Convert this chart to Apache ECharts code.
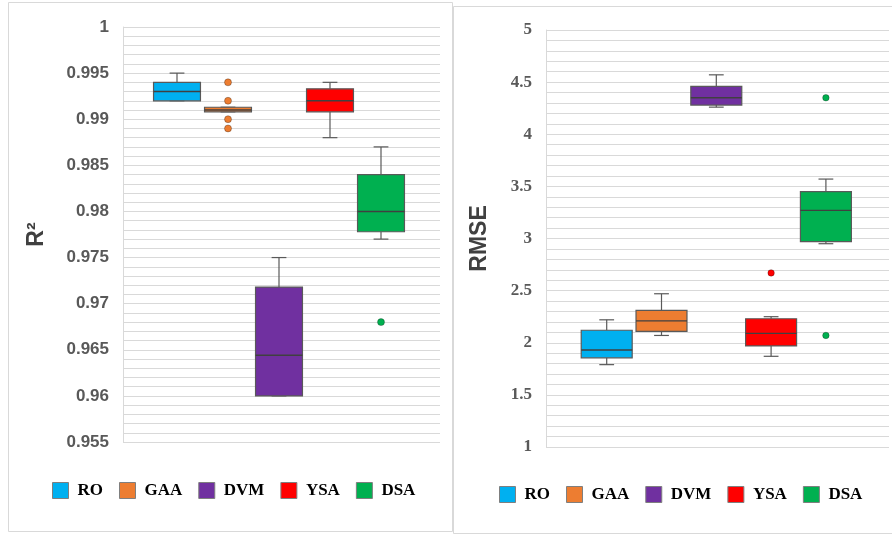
<!DOCTYPE html>
<html>
<head>
<meta charset="utf-8">
<script src="https://cdn.jsdelivr.net/npm/echarts@6/dist/echarts.min.js"></script>
<style>
html,body{margin:0;padding:0;background:#fff;}
#chart{width:892px;height:535px;}
</style>
</head>
<body>
<div id="chart"></div>
<script>
// ---- data ----
const methods = ['RO', 'GAA', 'DVM', 'YSA', 'DSA'];

// R² box statistics (min, Q1, median, Q3, max), per method
const r2Min    = [0.992, 0.9908, 0.960,  0.988,  0.977];
const r2Q1     = [0.992, 0.9908, 0.960,  0.9908, 0.9778];
const r2Median = [0.993, 0.991,  0.9644, 0.992,  0.980];
const r2Q3     = [0.994, 0.9913, 0.9718, 0.9933, 0.984];
const r2Max    = [0.995, 0.9913, 0.975,  0.994,  0.987];
const r2OutlierMethod = ['GAA', 'GAA', 'GAA', 'GAA', 'DSA'];
const r2OutlierValue  = [0.994, 0.992, 0.990, 0.989, 0.968];
const r2Ticks = [0.955, 0.96, 0.965, 0.97, 0.975, 0.98, 0.985, 0.99, 0.995, 1];

// RMSE box statistics
const rmseMin    = [1.79,  2.07, 4.26, 1.87, 2.95];
const rmseQ1     = [1.855, 2.11, 4.28, 1.97, 2.97];
const rmseMedian = [1.93,  2.21, 4.35, 2.09, 3.27];
const rmseQ3     = [2.12,  2.31, 4.46, 2.23, 3.45];
const rmseMax    = [2.22,  2.47, 4.57, 2.25, 3.57];
const rmseOutlierMethod = ['YSA', 'DSA', 'DSA'];
const rmseOutlierValue  = [2.67, 4.35, 2.07];
const rmseTicks = [1, 1.5, 2, 2.5, 3, 3.5, 4, 4.5, 5];

// ---- styles ----
const colors = ['#00B0F0', '#ED7D31', '#7030A0', '#FF0000', '#00B050'];
const LINE = '#595959';

function makeRender(boxW, capW) {
  return function (params, api) {
    const x = api.value(0);
    const lo = api.coord([x, api.value(1)]);
    const q1 = api.coord([x, api.value(2)]);
    const md = api.coord([x, api.value(3)]);
    const q3 = api.coord([x, api.value(4)]);
    const hi = api.coord([x, api.value(5)]);
    const half = api.size([boxW, 0])[0] / 2;
    const capHalf = api.size([capW, 0])[0] / 2;
    const color = api.visual('color');
    const ls = { stroke: LINE, lineWidth: 1.2 };
    return {
      type: 'group',
      children: [
        { type: 'line', shape: { x1: hi[0], y1: hi[1], x2: q3[0], y2: q3[1] }, style: ls },
        { type: 'line', shape: { x1: hi[0] - capHalf, y1: hi[1], x2: hi[0] + capHalf, y2: hi[1] }, style: ls },
        { type: 'line', shape: { x1: lo[0], y1: lo[1], x2: q1[0], y2: q1[1] }, style: ls },
        { type: 'line', shape: { x1: lo[0] - capHalf, y1: lo[1], x2: lo[0] + capHalf, y2: lo[1] }, style: ls },
        { type: 'rect', shape: { x: q3[0] - half, y: q3[1], width: half * 2, height: q1[1] - q3[1] },
          style: { fill: color, stroke: LINE, lineWidth: 1.2 } },
        { type: 'line', shape: { x1: md[0] - half, y1: md[1], x2: md[0] + half, y2: md[1] },
          style: { stroke: '#404040', lineWidth: 1.4 } }
      ]
    };
  };
}

function boxSeries(gridIdx, mins, q1s, meds, q3s, maxs, boxW, capW) {
  return methods.map((m, i) => ({
    type: 'custom',
    name: m,
    xAxisIndex: gridIdx,
    yAxisIndex: gridIdx,
    itemStyle: { color: colors[i], borderColor: '#7f7f7f', borderWidth: 1 },
    encode: { x: 0, y: [1, 2, 3, 4, 5] },
    renderItem: makeRender(boxW, capW),
    data: [[i, mins[i], q1s[i], meds[i], q3s[i], maxs[i]]],
    z: 3
  }));
}

function outlierSeries(gridIdx, oMethods, oValues, size) {
  return methods.map((m, i) => ({
    type: 'scatter',
    name: m + ' outlier',
    xAxisIndex: gridIdx,
    yAxisIndex: gridIdx,
    symbol: 'circle',
    symbolSize: size,
    itemStyle: { color: colors[i], borderColor: 'rgba(0,0,0,0.35)', borderWidth: 0.8, opacity: 1 },
    data: oValues.map((v, k) => oMethods[k] === m ? [i, v] : null).filter(d => d),
    z: 4
  })).filter(s => s.data.length);
}

const fmt = d => v => String(+v.toFixed(d));

const yCommon = {
  type: 'value',
  axisLine: { show: true, onZero: false, lineStyle: { color: '#d9d9d9', width: 1 } },
  axisTick: { show: false },
  splitLine: { show: true, lineStyle: { color: '#d9d9d9', width: 1 } },
  minorTick: { show: false, splitNumber: 5 },
  minorSplitLine: { show: true, lineStyle: { color: '#d9d9d9', width: 1 } },
  nameLocation: 'middle',
  nameRotate: 90
};

const legendCommon = {
  data: methods, icon: 'rect', itemWidth: 16, itemHeight: 16, itemGap: 16,
  selectedMode: false,
  itemStyle: { borderColor: '#7f7f7f', borderWidth: 1 },
  textStyle: { fontFamily: 'Liberation Serif, Times New Roman, serif', fontWeight: 'bold', fontSize: 17, color: '#000', padding: [0, 0, 0, 4] }
};

const option = {
  backgroundColor: '#fff',
  animation: false,
  graphic: [
    { type: 'rect', shape: { x: 8.5, y: 2.5, width: 444, height: 529 },
      style: { fill: 'none', stroke: '#d9d9d9', lineWidth: 1 }, silent: true },
    { type: 'rect', shape: { x: 453.5, y: 6.5, width: 445, height: 527 },
      style: { fill: 'none', stroke: '#d9d9d9', lineWidth: 1 }, silent: true }
  ],
  grid: [
    { left: 123, right: 452, top: 27, bottom: 93 },
    { left: 546, right: 3, top: 30, bottom: 88 }
  ],
  xAxis: [
    { type: 'value', gridIndex: 0, min: -54 / 51, max: 263 / 51, show: false, splitLine: { show: false } },
    { type: 'value', gridIndex: 1, min: -60.7 / 54.8, max: 282.3 / 54.8, show: false, splitLine: { show: false } }
  ],
  yAxis: [
    Object.assign({}, yCommon, {
      gridIndex: 0,
      min: r2Ticks[0], max: r2Ticks[r2Ticks.length - 1], interval: 0.005,
      name: 'R²', nameGap: 75,
      nameTextStyle: { fontFamily: 'Liberation Sans, Arial, sans-serif', fontWeight: 'bold', fontSize: 23, color: '#404040' },
      axisLabel: { formatter: fmt(3), margin: 14, color: '#595959', fontFamily: 'Liberation Sans, Arial, sans-serif', fontWeight: 'bold', fontSize: 17 }
    }),
    Object.assign({}, yCommon, {
      gridIndex: 1,
      min: rmseTicks[0], max: rmseTicks[rmseTicks.length - 1], interval: 0.5,
      name: 'RMSE', nameGap: 55,
      nameTextStyle: { fontFamily: 'Liberation Sans, Arial, sans-serif', fontWeight: 'bold', fontSize: 23, color: '#404040' },
      axisLabel: { formatter: fmt(1), margin: 14, color: '#595959', fontFamily: 'Liberation Serif, Times New Roman, serif', fontWeight: 'bold', fontSize: 17 }
    })
  ],
  legend: [
    Object.assign({}, legendCommon, { left: 47, top: 477 }),
    Object.assign({}, legendCommon, { left: 494, top: 481 })
  ],
  series: [].concat(
    boxSeries(0, r2Min, r2Q1, r2Median, r2Q3, r2Max, 0.92, 0.29),
    outlierSeries(0, r2OutlierMethod, r2OutlierValue, 7),
    boxSeries(1, rmseMin, rmseQ1, rmseMedian, rmseQ3, rmseMax, 0.93, 0.27),
    outlierSeries(1, rmseOutlierMethod, rmseOutlierValue, 6.5)
  )
};

const chart = echarts.init(document.getElementById('chart'), null, { renderer: 'canvas' });
chart.setOption(option);
</script>
</body>
</html>
